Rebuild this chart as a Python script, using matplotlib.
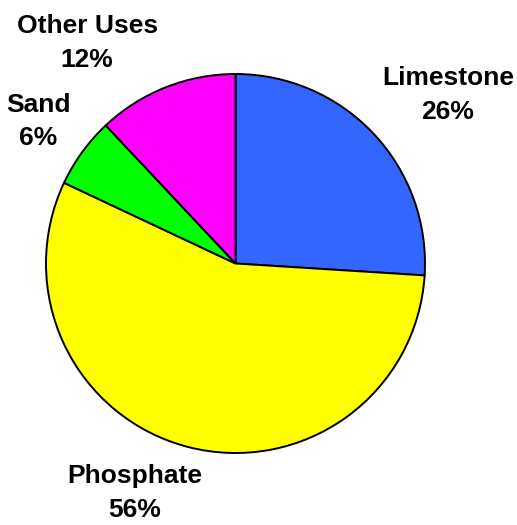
import matplotlib
matplotlib.use("Agg")
import matplotlib.pyplot as plt
import numpy as np

# --- DATA ---
labels = ["Limestone", "Phosphate", "Sand", "Other Uses"]
shares = [26, 56, 6, 12]
colors = ["#3366FF", "#FFFF00", "#00FF00", "#FF00FF"]

# label placement: (distance in radii, angle in degrees) around the pie centre
label_pos = [(1.430, 38.4), (1.324, 246.3), (1.283, 144.2), (1.403, 123.9)]

W, H = 517, 525
CX, CY, R = 235.5, 525 - 263.5, 189.5

fig = plt.figure(figsize=(W / 100, H / 100), dpi=100)
ax = fig.add_axes([0, 0, 1, 1])

ax.pie(shares, colors=colors, startangle=90, counterclock=False,
       center=(CX, CY), radius=R,
       wedgeprops=dict(edgecolor="black", linewidth=1.4))
ax.set_xlim(0, W)
ax.set_ylim(0, H)
ax.set_aspect("equal")
ax.axis("off")

for name, val, (d, ang) in zip(labels, shares, label_pos):
    a = np.deg2rad(ang)
    x = CX + d * R * np.cos(a)
    y = CY + d * R * np.sin(a)
    ax.text(x, y, f"{name}\n{val}%", ha="center", va="center",
            fontsize=19, fontweight="bold", family="Liberation Sans",
            linespacing=1.5)

fig.savefig("out.png", dpi=100)
